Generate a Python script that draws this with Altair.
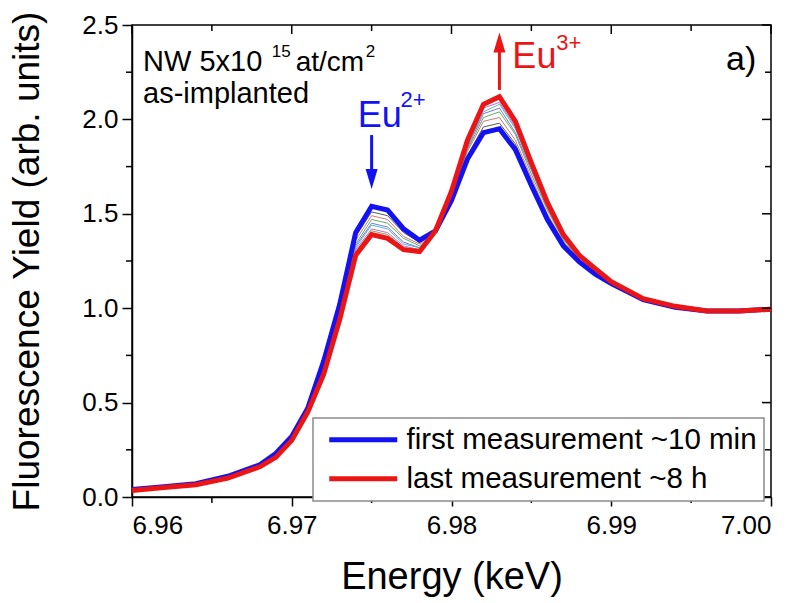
import altair as alt
import pandas as pd

# Eu L3-edge XANES, NW 5x10^15 at/cm^2, as-implanted
energy = [6.960, 6.962, 6.964, 6.966, 6.968, 6.969, 6.970, 6.971, 6.972, 6.973,
          6.974, 6.975, 6.976, 6.977, 6.978, 6.979, 6.980, 6.981, 6.982, 6.983,
          6.984, 6.985, 6.986, 6.987, 6.988, 6.989, 6.990, 6.992, 6.994, 6.996,
          6.998, 7.000]
first_scan = [0.040, 0.055, 0.070, 0.110, 0.170, 0.230, 0.320, 0.470, 0.720, 1.020,
              1.400, 1.540, 1.520, 1.420, 1.360, 1.410, 1.570, 1.790, 1.930, 1.950,
              1.840, 1.650, 1.470, 1.330, 1.245, 1.180, 1.130, 1.045, 1.005, 0.985,
              0.985, 0.995]
last_scan = [0.035, 0.050, 0.065, 0.100, 0.160, 0.210, 0.300, 0.450, 0.650, 0.940,
             1.280, 1.390, 1.370, 1.310, 1.300, 1.410, 1.620, 1.890, 2.080, 2.120,
             1.990, 1.770, 1.560, 1.390, 1.280, 1.210, 1.140, 1.050, 1.010, 0.985,
             0.985, 0.995]

# intermediate scans, white-line region only
mid_energy = [6.972, 6.973, 6.974, 6.975, 6.976, 6.977, 6.978, 6.979, 6.980,
              6.981, 6.982, 6.983, 6.984, 6.985, 6.986, 6.987, 6.988]
mid_scans = [
    [0.71, 1.00, 1.38, 1.51, 1.49, 1.40, 1.35, 1.41, 1.58, 1.81, 1.96, 1.98, 1.87, 1.67, 1.49, 1.34, 1.25],
    [0.70, 0.99, 1.36, 1.49, 1.47, 1.38, 1.34, 1.41, 1.59, 1.83, 1.99, 2.01, 1.89, 1.69, 1.50, 1.35, 1.26],
    [0.69, 0.98, 1.34, 1.47, 1.45, 1.37, 1.33, 1.41, 1.60, 1.84, 2.01, 2.04, 1.92, 1.71, 1.52, 1.36, 1.26],
    [0.68, 0.97, 1.33, 1.45, 1.43, 1.35, 1.32, 1.41, 1.60, 1.85, 2.03, 2.06, 1.93, 1.73, 1.53, 1.37, 1.27],
    [0.67, 0.96, 1.32, 1.44, 1.42, 1.34, 1.32, 1.41, 1.61, 1.86, 2.04, 2.08, 1.95, 1.74, 1.54, 1.37, 1.27],
    [0.67, 0.95, 1.31, 1.42, 1.40, 1.33, 1.31, 1.41, 1.61, 1.87, 2.06, 2.09, 1.96, 1.75, 1.55, 1.38, 1.27],
    [0.66, 0.95, 1.30, 1.41, 1.39, 1.32, 1.31, 1.41, 1.62, 1.88, 2.07, 2.11, 1.98, 1.76, 1.55, 1.38, 1.28],
]
mid_colors = ["#5a5a5a", "#d07878", "#60b060", "#7878d8", "#58b8d0", "#c070c8", "#9a9a50"]

FIRST = "first measurement ~10 min"
LAST = "last measurement ~8 h"
BLUE = "#1212F2"
RED = "#EC1515"
FONT = "Liberation Sans"

W, H = 639, 472
x_major = [6.96, 6.97, 6.98, 6.99, 7.00]
x_minor = [6.965, 6.975, 6.985, 6.995]
y_major = [0.0, 0.5, 1.0, 1.5, 2.0, 2.5]
y_minor = [0.25, 0.75, 1.25, 1.75, 2.25]

x_enc = alt.X(
    "energy:Q",
    scale=alt.Scale(domain=[6.96, 7.00], nice=False, zero=False),
    axis=alt.Axis(values=x_major, format=".2f", title="Energy (keV)",
                  tickSize=9, labelPadding=6, titleBaseline="alphabetic",
                  titleFontSize=38, titleY=91, titleX=W / 2, titleAlign="center"),
)
y_enc = alt.Y(
    "yield:Q",
    scale=alt.Scale(domain=[0, 2.5], nice=False, zero=False),
    axis=alt.Axis(values=y_major, format=".1f", title="Fluorescence Yield (arb. units)",
                  tickSize=10, labelPadding=4, titleAngle=270, titleBaseline="alphabetic",
                  titleX=-94, titleY=H / 2, titleAlign="center"),
)

# long tables
main_df = pd.DataFrame(
    [{"energy": e, "yield": v, "scan": FIRST} for e, v in zip(energy, first_scan)]
    + [{"energy": e, "yield": v, "scan": LAST} for e, v in zip(energy, last_scan)]
)
mid_rows = []
for i, scan in enumerate(mid_scans):
    for e, v in zip(mid_energy, scan):
        mid_rows.append({"energy": e, "yield": v, "run": f"scan {i + 2}"})
mid_df = pd.DataFrame(mid_rows)

thin = alt.Chart(mid_df).mark_line(strokeWidth=1).encode(
    x=x_enc, y=y_enc,
    stroke=alt.Stroke("run:N", scale=alt.Scale(domain=[f"scan {i + 2}" for i in range(len(mid_scans))],
                                                range=mid_colors), legend=None),
)

color_enc = alt.Color(
    "scan:N",
    scale=alt.Scale(domain=[FIRST, LAST], range=[BLUE, RED]),
    legend=alt.Legend(
        title=None, orient="none", legendX=181, legendY=393,
        symbolType="M-0.55,0H6.25", symbolSize=400, symbolStrokeWidth=5,
        labelFont=FONT, labelFontSize=29.5, labelColor="black", labelOffset=57,
        labelLimit=600, padding=7, rowPadding=8,
        strokeColor="#8a8a8a", fillColor="white",
    ),
)
blue_line = alt.Chart(main_df).transform_filter(alt.datum.scan == FIRST).mark_line(
    strokeWidth=5).encode(x=x_enc, y=y_enc, color=color_enc)
red_line = alt.Chart(main_df).transform_filter(alt.datum.scan == LAST).mark_line(
    strokeWidth=5).encode(x=x_enc, y=y_enc, color=color_enc)

# axis ticks not drawn by the axes themselves
def tick_rules(df, **enc):
    return alt.Chart(df).mark_rule(color="black", strokeWidth=1.5).encode(**enc)

xmin_df = pd.DataFrame({"energy": x_minor})
xmaj_df = pd.DataFrame({"energy": x_major})
ymin_df = pd.DataFrame({"yield": y_minor})
ymaj_df = pd.DataFrame({"yield": y_major})
ticks = [
    tick_rules(xmin_df, x=x_enc, y=alt.value(H), y2=alt.value(H + 6)),
    tick_rules(xmaj_df, x=x_enc, y=alt.value(0), y2=alt.value(9)),
    tick_rules(xmin_df, x=x_enc, y=alt.value(0), y2=alt.value(6)),
    tick_rules(ymin_df, y=y_enc, x=alt.value(0), x2=alt.value(-6)),
    tick_rules(ymaj_df, y=y_enc, x=alt.value(W), x2=alt.value(W - 9)),
    tick_rules(ymin_df, y=y_enc, x=alt.value(W), x2=alt.value(W - 6)),
]

# annotations
def label(txt, e, y, size, color="black"):
    df = pd.DataFrame({"energy": [e], "yield": [y], "txt": [txt]})
    return alt.Chart(df).mark_text(
        align="left", baseline="alphabetic", font=FONT, fontSize=size, color=color
    ).encode(x=x_enc, y=y_enc, text="txt:N")

labels = [
    label("NW 5x10", 6.96069, 2.256, 29),
    label("15", 6.96875, 2.331, 17),
    label("at/cm", 6.97025, 2.256, 28),
    label("2", 6.97463, 2.331, 17),
    label("as-implanted", 6.96069, 2.087, 29),
    label("a)", 6.99719, 2.262, 34),
    label("Eu", 6.97413, 1.960, 36, BLUE),
    label("2+", 6.97681, 2.066, 22, BLUE),
    label("Eu", 6.98381, 2.272, 36, RED),
    label("3+", 6.98656, 2.368, 22, RED),
]

def arrow(e, y_tail, y_shaft_end, y_head, shape, color):
    shaft = pd.DataFrame({"energy": [e], "yield": [y_tail], "yield2": [y_shaft_end]})
    head = pd.DataFrame({"energy": [e], "yield": [y_head]})
    return [
        alt.Chart(shaft).mark_rule(color=color, strokeWidth=3).encode(
            x=x_enc, y=y_enc, y2="yield2:Q"),
        alt.Chart(head).mark_point(shape=shape, filled=True, size=400, color=color,
                                   strokeWidth=0, opacity=1).encode(x=x_enc, y=y_enc),
    ]

arrows = (arrow(6.975, 1.917, 1.70, 1.684, "M-0.6,-1L0.6,-1L0,1Z", BLUE)
          + arrow(6.983, 2.156, 2.38, 2.407, "M-0.6,1L0.6,1L0,-1Z", RED))

chart = alt.layer(thin, blue_line, red_line, *ticks, *arrows, *labels).properties(
    width=W, height=H,
    autosize=alt.AutoSizeParams(type="none"),
    padding={"left": 132, "top": 25, "right": 30, "bottom": 106},
).configure_view(stroke="black", strokeWidth=1.5).configure_axis(
    grid=False, domainColor="black", domainWidth=1.5, tickColor="black", tickWidth=1.5,
    labelFont=FONT, labelFontSize=26, labelColor="black",
    titleFont=FONT, titleFontSize=37, titleFontWeight="normal", titleColor="black",
).configure_legend(strokeWidth=1.5)

chart.save("out.html", embed_options={"renderer": "svg", "actions": False})
